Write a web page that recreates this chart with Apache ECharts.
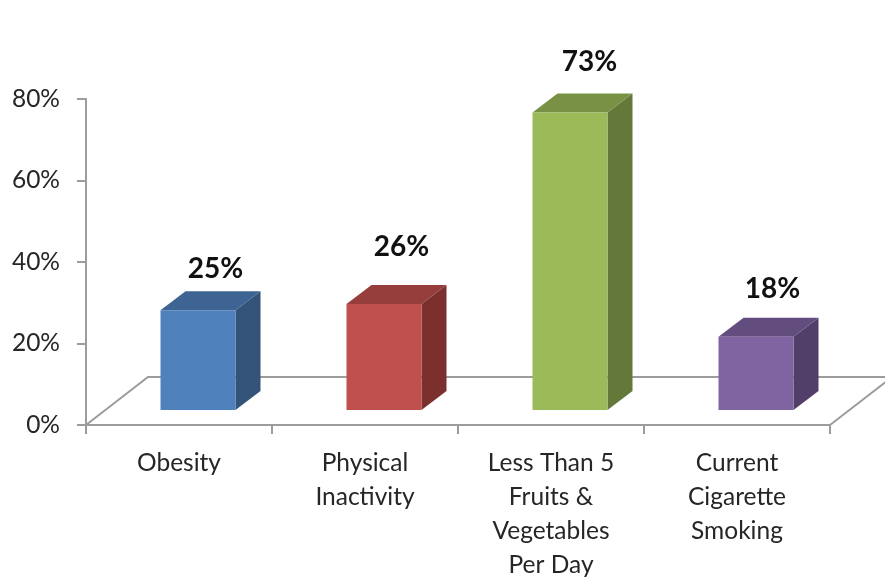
<!DOCTYPE html>
<html><head><meta charset="utf-8">
<style>html,body{margin:0;padding:0;background:#fff}#c{width:885px;height:579px}</style>
<script src="https://cdn.jsdelivr.net/npm/echarts@6/dist/echarts.min.js"></script>
</head><body><div id="c"></div>
<script>
const categories = ['Obesity', 'Physical\nInactivity', 'Less Than 5\nFruits &\nVegetables\nPer Day', 'Current\nCigarette\nSmoking'];
const values = [24.5, 26, 73, 18];
const frontColors = ['#4f81bd', '#c0504d', '#9bbb59', '#8064a2'];
const topColors = ['#3d6493', '#953e3b', '#789145', '#634d7e'];
const sideColors = ['#335379', '#7b302e', '#637839', '#523f69'];
const labelShiftX = [5, 5, 7, 4];
const labelRise = [22, 38, 32, 29];
const axisGrey = '#9c9c9c', textColor = '#262626', fontFamily = 'Lato';

const chart = echarts.init(document.getElementById('c'), null, {renderer: 'canvas'});

function renderFloor(params, api) {
  const c = params.coordSys, x0 = c.x, y0 = c.y + c.height, x1 = c.x + c.width;
  return {type: 'polyline', shape: {points: [[x0, y0], [x0 + 62, y0 - 48], [x1 + 62, y0 - 48], [x1, y0]]},
    style: {fill: null, stroke: axisGrey, lineWidth: 2}, silent: true};
}
function renderBar(params, api) {
  const i = api.value(0), v = api.value(1);
  const p = api.coord([i, v]), base = api.coord([i, 0]);
  const w = 75, dx = 25, dy = 19, lift = 15, cx = p[0] + 19;
  const l = cx - w / 2, r = cx + w / 2, b = base[1] - lift, t = b - (base[1] - p[1]);
  return {type: 'group', children: [
    {type: 'polygon', shape: {points: [[r, b], [r + dx, b - dy], [r + dx, t - dy], [r, t]]}, style: {fill: sideColors[i]}},
    {type: 'polygon', shape: {points: [[l, t], [l + dx, t - dy], [r + dx, t - dy], [r, t]]}, style: {fill: topColors[i]}},
    {type: 'rect', shape: {x: l, y: t, width: w, height: b - t}, style: {fill: frontColors[i]}},
    {type: 'text', x: cx + dx / 2 + labelShiftX[i], y: t - dy - labelRise[i],
      style: {text: Math.round(v) + '%', fontFamily, fontWeight: 'bold', fontSize: 28, fill: '#111', align: 'center', verticalAlign: 'middle'}}
  ]};
}
chart.setOption({
  animation: false,
  backgroundColor: '#fff',
  grid: {left: 86, right: 55, top: 99, bottom: 154, outerBoundsMode: 'none', containLabel: false},
  xAxis: {type: 'category', data: categories,
    axisLine: {lineStyle: {color: axisGrey, width: 2}},
    axisTick: {show: true, length: 9, lineStyle: {color: axisGrey, width: 2}},
    axisLabel: {color: textColor, fontFamily, fontSize: 24.5, lineHeight: 34, margin: 21, interval: 0}},
  yAxis: {type: 'value', min: 0, max: 80, interval: 20,
    axisLine: {show: true, lineStyle: {color: axisGrey, width: 2}},
    axisTick: {show: true, length: 9, lineStyle: {color: axisGrey, width: 2}},
    splitLine: {show: false},
    axisLabel: {color: textColor, fontFamily, fontSize: 24.5, margin: 26, padding: [3, 0, 0, 0], formatter: '{value}%'}},
  series: [
    {type: 'custom', coordinateSystem: 'cartesian2d', clip: false, z: 1, data: [[0, 0]], renderItem: renderFloor},
    {type: 'custom', coordinateSystem: 'cartesian2d', clip: false, z: 3, data: values.map((v, i) => [i, v]), encode: {x: 0, y: 1}, renderItem: renderBar}
  ]
});
</script></body></html>
